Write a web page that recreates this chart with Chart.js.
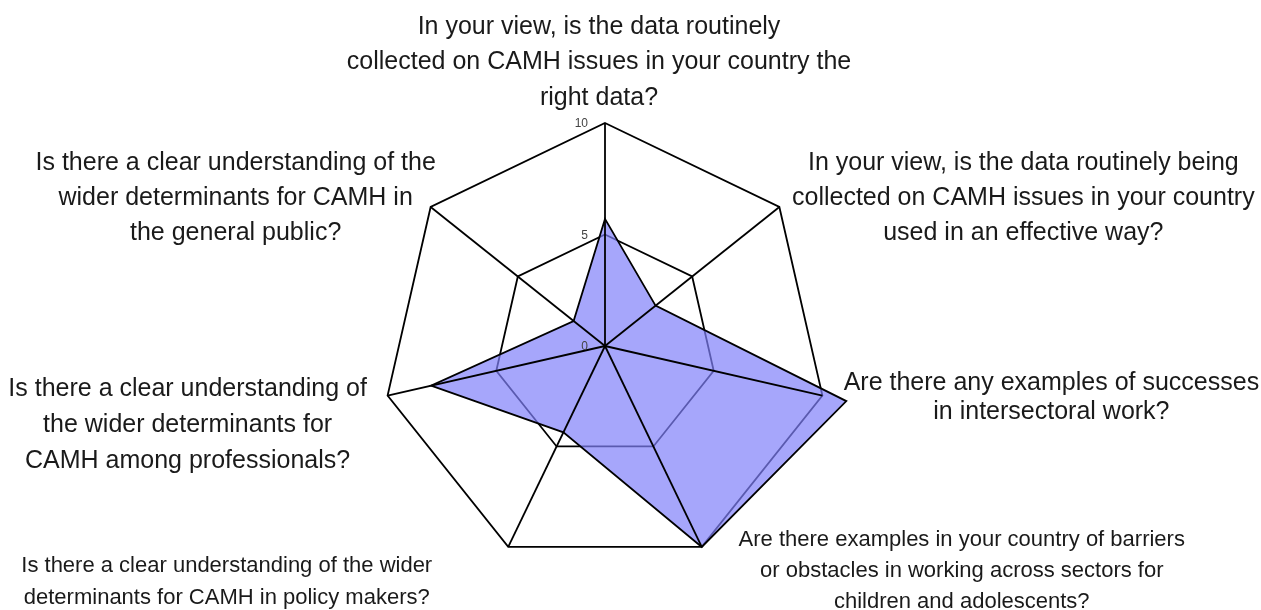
<!DOCTYPE html>
<html>
<head>
<meta charset="utf-8">
<script src="https://cdn.jsdelivr.net/npm/chart.js@4"></script>
<style>
body { margin: 0; background: #fff; }
#wrap { width: 1261px; height: 610px; }
</style>
</head>
<body>
<div id="wrap"><canvas id="chart"></canvas></div>
<script>
// questions around the radar, clockwise from the top
var questions = [
	['In your view, is the data routinely', 'collected on CAMH issues in your country the', 'right data?'],
	['In your view, is the data routinely being', 'collected on CAMH issues in your country', 'used in an effective way?'],
	['Are there any examples of successes', 'in intersectoral work?'],
	['Are there examples in your country of barriers', 'or obstacles in working across sectors for', 'children and adolescents?'],
	['Is there a clear understanding of the wider', 'determinants for CAMH in policy makers?'],
	['Is there a clear understanding of', 'the wider determinants for', 'CAMH among professionals?'],
	['Is there a clear understanding of the', 'wider determinants for CAMH in', 'the general public?']
];
var scores = [5.7, 2.9, 11.1, 10, 4.3, 8, 1.8];
var tickValues = [0, 5, 10];

// label block placement, relative to the outer vertex of each spoke
var labelStyle = [
	{ size: 25, lh: 35.5, dx: -6, dy: -60.5 },
	{ size: 25, lh: 35, dx: 244, dy: -9 },
	{ size: 25, lh: 29, dx: 229, dy: 2 },
	{ size: 22, lh: 31, dx: 260, dy: 24 },
	{ size: 22, lh: 32, dx: -281.5, dy: 35 },
	{ size: 25, lh: 36, dx: -200, dy: 29 },
	{ size: 25, lh: 35, dx: -195, dy: -9 }
];

var radarExtras = {
	id: 'radarExtras',
	afterDatasetsDraw: function (chart) {
		var scale = chart.scales.r;
		var ctx = chart.ctx;
		var n = chart.data.labels.length;
		ctx.save();
		// spokes on top of the fill
		ctx.strokeStyle = '#000';
		ctx.lineWidth = 1.8;
		for (var i = 0; i < n; i++) {
			var p = scale.getPointPosition(i, scale.drawingArea);
			ctx.beginPath();
			ctx.moveTo(scale.xCenter, scale.yCenter);
			ctx.lineTo(p.x, p.y);
			ctx.stroke();
		}
		// tick numbers, left of the top spoke
		ctx.fillStyle = '#444';
		ctx.font = '12px "Liberation Sans", Arial, sans-serif';
		ctx.textAlign = 'right';
		ctx.textBaseline = 'middle';
		scale.ticks.forEach(function (t) {
			var d = scale.getDistanceFromCenterForValue(t.value);
			ctx.fillText(String(t.value), scale.xCenter - 17, scale.yCenter - d + 1);
		});
		// question labels, lines centred
		ctx.fillStyle = '#1a1a1a';
		ctx.textAlign = 'center';
		for (var k = 0; k < n; k++) {
			var st = labelStyle[k];
			var v = scale.getPointPosition(k, scale.drawingArea);
			var lines = chart.data.labels[k];
			ctx.font = st.size + 'px "Liberation Sans", Arial, sans-serif';
			for (var j = 0; j < lines.length; j++) {
				var y = v.y + st.dy + (j - (lines.length - 1) / 2) * st.lh;
				ctx.fillText(lines[j], v.x + st.dx, y);
			}
		}
		ctx.restore();
	}
};

var ctx = document.getElementById('chart').getContext('2d');
var chart = new Chart(ctx, {
	type: 'radar',
	data: {
		labels: questions,
		datasets: [{
			data: scores,
			backgroundColor: 'rgba(128,128,250,0.7)',
			borderColor: '#000',
			borderWidth: 1.8,
			pointRadius: 0,
			fill: true
		}]
	},
	options: {
		responsive: true,
		maintainAspectRatio: false,
		animation: false,
		layout: { padding: { top: 123, bottom: 41, left: 0, right: 51 } },
		plugins: {
			legend: { display: false },
			tooltip: { enabled: false }
		},
		scales: {
			r: {
				min: 0,
				max: 10,
				afterBuildTicks: function (scale) {
					scale.ticks = tickValues.map(function (v) { return { value: v }; });
				},
				ticks: { display: false },
				grid: { color: '#000', lineWidth: 1.8, circular: false },
				angleLines: { display: false },
				pointLabels: { display: false }
			}
		}
	},
	plugins: [radarExtras]
});
</script>
</body>
</html>
